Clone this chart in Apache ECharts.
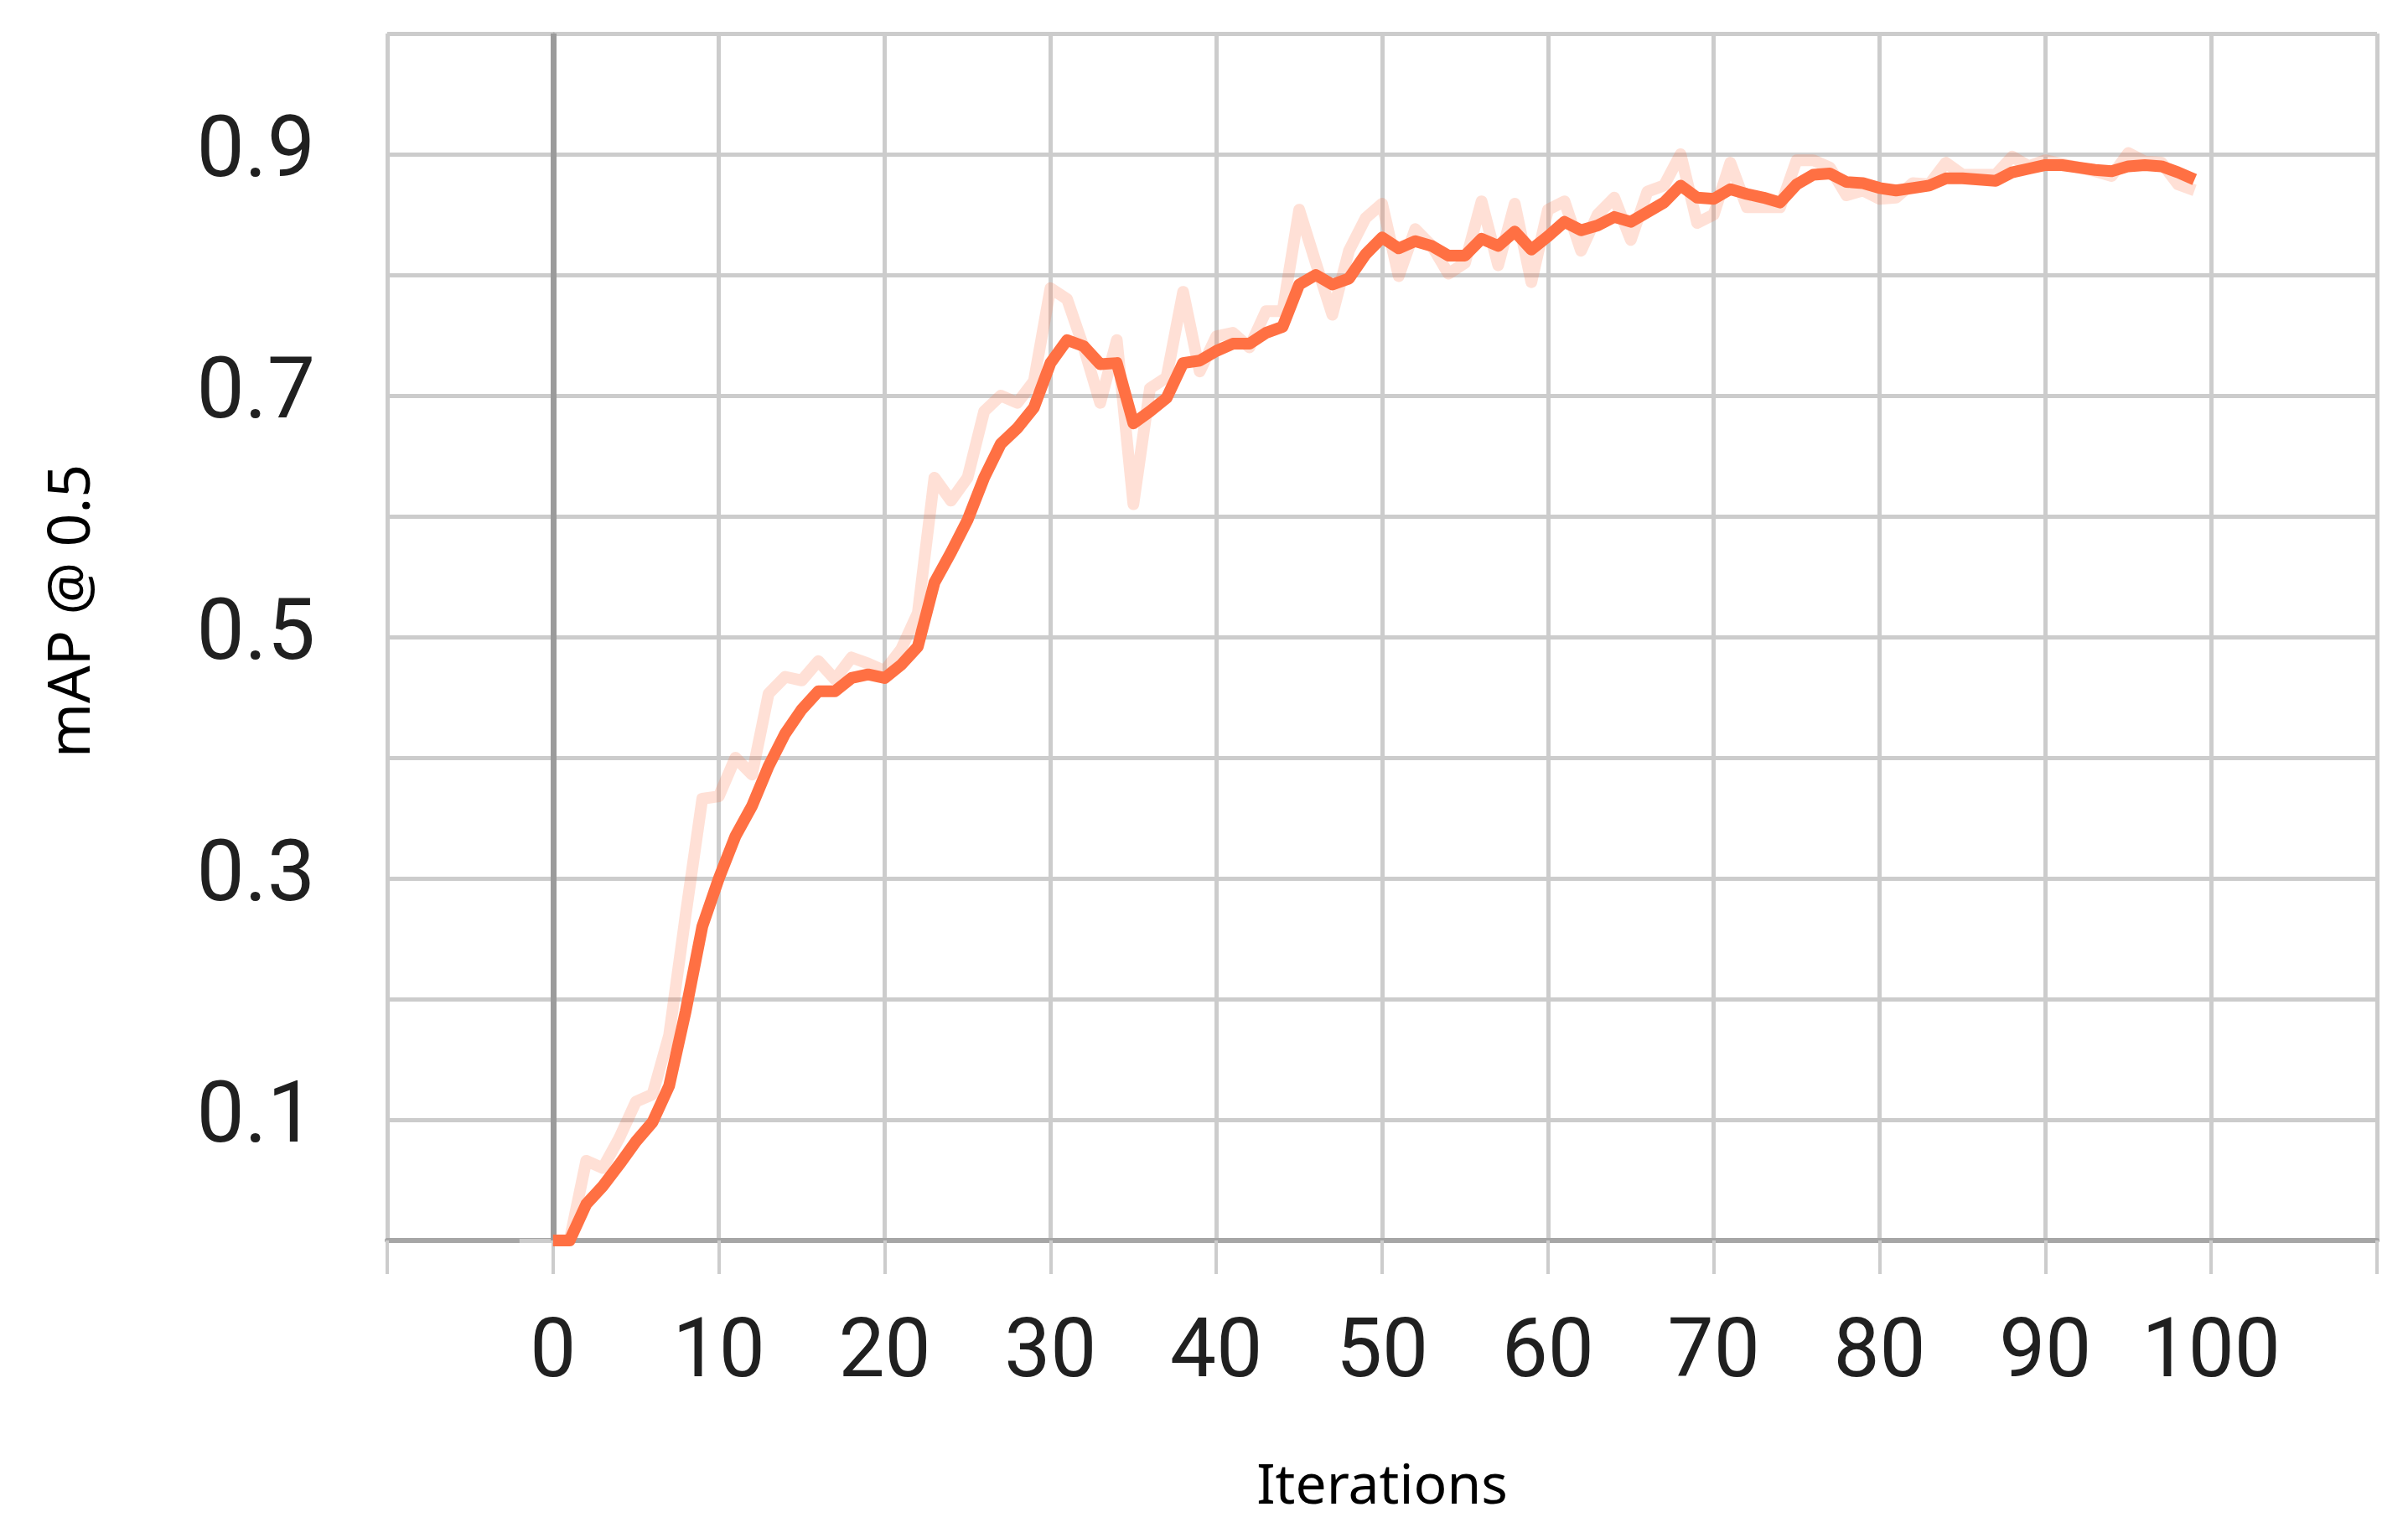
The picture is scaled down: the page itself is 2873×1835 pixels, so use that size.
<!DOCTYPE html>
<html>
<head>
<meta charset="utf-8">
<script src="https://cdn.jsdelivr.net/npm/echarts@6/dist/echarts.min.js"></script>
<style>
  html, body { margin: 0; padding: 0; background: #fff; }
  #chart { width: 2873px; height: 1835px; }
</style>
</head>
<body>
<div id="chart"></div>
<script>
// iteration steps 0..99
const steps = [];
for (let i = 0; i < 100; i++) steps.push(i);

// raw mAP values (faint line)
const rawMap = [
  0, 0, 0.066, 0.06, 0.085, 0.115, 0.121, 0.17, 0.27, 0.366,
  0.368, 0.40, 0.386, 0.453, 0.467, 0.464, 0.48, 0.465, 0.483, 0.478,
  0.472, 0.49, 0.52, 0.632, 0.613, 0.632, 0.687, 0.70, 0.694, 0.712,
  0.789, 0.78, 0.74, 0.694, 0.746, 0.61, 0.706, 0.715, 0.786, 0.72,
  0.749, 0.752, 0.74, 0.77, 0.77, 0.854, 0.81, 0.767, 0.82, 0.847,
  0.859, 0.799, 0.838, 0.824, 0.801, 0.81, 0.861, 0.808, 0.859, 0.794,
  0.854, 0.861, 0.82, 0.85, 0.864, 0.829, 0.869, 0.874, 0.9, 0.843,
  0.85, 0.893, 0.856, 0.856, 0.856, 0.895, 0.895, 0.889, 0.866, 0.87,
  0.863, 0.864, 0.876, 0.875, 0.893, 0.883, 0.883, 0.883, 0.898, 0.89,
  0.895, 0.892, 0.889, 0.886, 0.882, 0.901, 0.894, 0.893, 0.875, 0.87
];

// smoothed mAP values (bold line)
const smoothMap = [
  0, 0, 0.03, 0.045, 0.063, 0.082, 0.098, 0.128, 0.19, 0.26,
  0.30, 0.335, 0.36, 0.393, 0.42, 0.44, 0.455, 0.455, 0.466, 0.469,
  0.466, 0.477, 0.492, 0.545, 0.57, 0.597, 0.632, 0.66, 0.673, 0.69,
  0.727, 0.746, 0.741, 0.726, 0.727, 0.677, 0.687, 0.698, 0.727, 0.729,
  0.737, 0.743, 0.743, 0.752, 0.757, 0.792, 0.80, 0.792, 0.797, 0.817,
  0.831, 0.822, 0.828, 0.824, 0.816, 0.816, 0.83, 0.824, 0.836, 0.821,
  0.832, 0.844, 0.837, 0.841, 0.848, 0.844, 0.852, 0.86, 0.874, 0.864,
  0.863, 0.871, 0.867, 0.864, 0.86, 0.875, 0.883, 0.884, 0.877, 0.876,
  0.872, 0.87, 0.872, 0.874, 0.88, 0.88, 0.879, 0.878, 0.885, 0.888,
  0.891, 0.891, 0.889, 0.887, 0.886, 0.89, 0.891, 0.89, 0.885, 0.879
];

const xLabels = [0, 10, 20, 30, 40, 50, 60, 70, 80, 90, 100];
const yLabels = [0.1, 0.3, 0.5, 0.7, 0.9];

const rawData = [];
const smoothData = [];
for (let i = 0; i < steps.length; i++) {
  rawData.push([steps[i], rawMap[i]]);
  smoothData.push([steps[i], smoothMap[i]]);
}

const gridColor = "#cccccc";

const chart = echarts.init(document.getElementById("chart"));
chart.setOption({
  animation: false,
  backgroundColor: "#ffffff",
  grid: { left: 462, right: 37, top: 40, bottom: 355 },
  xAxis: {
    type: "value",
    min: -10,
    max: 110,
    interval: 10,
    name: "Iterations",
    nameLocation: "middle",
    nameGap: 262,
    nameTextStyle: { fontFamily: "Noto Sans", fontSize: 66, color: "#000" },
    axisLine: { show: true, onZero: false, lineStyle: { color: "#a6a6a6", width: 6 } },
    axisTick: { show: true, length: 40, lineStyle: { color: gridColor, width: 4 } },
    axisLabel: {
      margin: 88,
      fontFamily: "Roboto",
      fontSize: 98,
      color: "#202020",
      formatter: function (v) {
        return xLabels.indexOf(v) >= 0 ? String(v) : "";
      },
    },
    splitLine: { show: true, lineStyle: { color: gridColor, width: 5 } },
  },
  yAxis: {
    type: "value",
    min: 0,
    max: 1,
    interval: 0.1,
    name: "mAP @ 0.5",
    nameLocation: "middle",
    nameRotate: 90,
    nameGap: 340,
    nameTextStyle: {
      fontFamily: "Noto Sans",
      fontSize: 70,
      color: "#000",
      padding: [0, 0, 0, 62],
    },
    axisLine: { show: true, lineStyle: { color: "#b8b8b8", width: 4 } },
    axisTick: { show: true, length: 40, lineStyle: { color: gridColor, width: 5 } },
    axisLabel: {
      margin: 86,
      fontFamily: "Roboto",
      fontSize: 102,
      color: "#202020",
      formatter: function (v) {
        const r = Math.round(v * 10) / 10;
        return yLabels.indexOf(r) >= 0 ? r.toFixed(1) : "";
      },
    },
    splitLine: { show: true, lineStyle: { color: gridColor, width: 5 } },
  },
  series: [
    {
      name: "raw",
      type: "line",
      data: rawData,
      showSymbol: false,
      symbol: "none",
      z: 3,
      lineStyle: { color: "#FF7043", opacity: 0.22, width: 14, join: "round" },
      markLine: {
        silent: true,
        symbol: "none",
        label: { show: false },
        lineStyle: { color: "#9b9b9b", width: 7, type: "solid" },
        data: [{ xAxis: 0 }],
        z: 2,
      },
    },
    {
      name: "smoothed",
      type: "line",
      data: smoothData,
      showSymbol: false,
      symbol: "none",
      z: 4,
      lineStyle: { color: "#FF7043", width: 14, join: "round" },
    },
  ],
});
</script>
</body>
</html>
